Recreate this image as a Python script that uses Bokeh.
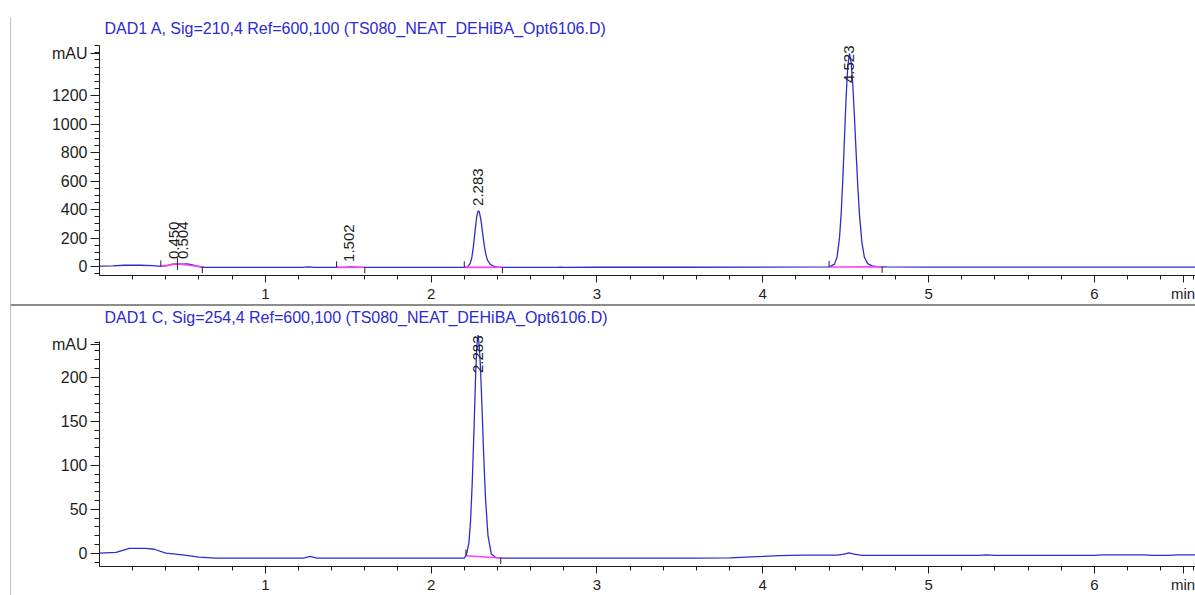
import numpy as np
from bokeh.plotting import figure
from bokeh.models import Range1d, FixedTicker, ColumnDataSource, Spacer, Label
from bokeh.layouts import column, row
from bokeh.embed import file_html
from bokeh.resources import INLINE
from bokeh.core.properties import value

# ---------------- data ----------------
TITLE_A = "DAD1 A, Sig=210,4 Ref=600,100 (TS080_NEAT_DEHiBA_Opt6106.D)"
TITLE_C = "DAD1 C, Sig=254,4 Ref=600,100 (TS080_NEAT_DEHiBA_Opt6106.D)"

# signal A (210 nm): retention time (min) / absorbance (mAU)
t_a = [0.00, 0.08, 0.15, 0.25, 0.32, 0.37, 0.41, 0.44, 0.47, 0.50, 0.53, 0.56, 0.59, 0.63,
       0.80, 1.00, 1.22, 1.26, 1.30, 1.48, 1.51, 1.55, 1.80, 2.00, 2.20, 2.22, 2.235, 2.245,
       2.255, 2.265, 2.275, 2.283, 2.29, 2.30, 2.31, 2.32, 2.33, 2.34, 2.355, 2.37, 2.39,
       2.42, 2.50, 2.76, 2.78, 2.80, 3.00, 3.50, 4.00, 4.40, 4.433, 4.448, 4.463, 4.473,
       4.483, 4.493, 4.503, 4.513, 4.523, 4.533, 4.543, 4.553, 4.563, 4.573, 4.583, 4.598,
       4.613, 4.633, 4.66, 4.70, 4.75, 5.00, 5.50, 6.00, 6.61]
sig_a = [3, 5, 9, 9, 6, 1, 6, 16, 19, 17, 19, 12, 2, -5,
         -6, -6, -6, -3, -6, -6, -2, -5, -6, -6, -6, -2, 20, 60,
         140, 250, 350, 390, 385, 330, 240, 150, 85, 45, 18, 6, -2,
         -5, -6, -6, -4, -6, -5, -5, -4, -3, 17, 65, 201, 371,
         612, 904, 1193, 1409, 1495, 1434, 1277, 1053, 804, 568, 371, 170,
         65, 20, 5, -2, -3, -4, -4, -4, -4]

# signal C (254 nm)
t_c = [0.00, 0.10, 0.18, 0.28, 0.33, 0.40, 0.50, 0.60, 0.70, 1.00, 1.23, 1.27, 1.31, 1.80,
       2.20, 2.213, 2.228, 2.238, 2.248, 2.258, 2.268, 2.276, 2.283, 2.29, 2.298, 2.308,
       2.318, 2.328, 2.343, 2.363, 2.39, 2.43, 3.00, 3.60, 3.80, 3.90, 4.00, 4.10, 4.25,
       4.45, 4.49, 4.52, 4.55, 4.60, 5.00, 5.30, 5.35, 5.40, 6.00, 6.05, 6.20, 6.30, 6.35,
       6.45, 6.50, 6.61]
sig_c = [0, 1, 5.5, 5.5, 4.5, 0, -2, -4.5, -5.5, -5.5, -5.5, -3.5, -5.5, -5.5,
         -5.5, -2, 12, 37, 80, 137, 200, 236, 248, 236, 210, 160,
         107, 62, 20, -1, -5, -5.5, -5.5, -5.5, -5.2, -4.5, -3.7, -2.8, -2.2,
         -2.2, -1, 0.5, -1, -2.5, -2.5, -2.5, -2, -2.5, -2.5, -1.8, -2, -1.8, -2.5,
         -2.5, -1.8, -1.8]

# integrated peaks: retention time, integration start, integration end
rt_a = [0.450, 0.504, 1.502, 2.283, 4.523]
start_a = [0.37, 0.47, 1.43, 2.20, 4.40]
end_a = [0.47, 0.62, 1.60, 2.43, 4.72]

rt_c = [2.283]
start_c = [2.21]
end_c = [2.42]

X_TICKS = [1, 2, 3, 4, 5, 6]
X_UNIT = "min"
Y_TICKS_A = [0, 200, 400, 600, 800, 1000, 1200]
Y_TICKS_C = [0, 50, 100, 150, 200]
Y_UNIT = "mAU"

# ---------------- styling / layout ----------------
PAGE_W, PAGE_H = 1195, 595
STRIP_W = 11                 # left margin strip holding the report frame line
W = PAGE_W - STRIP_W
FRAME_L = 88                 # frame left inside each chart figure (page x = 99)
X0, X1 = 0.0, 6.61
TRACE = "#2d2dcc"
PINK = "#ff3cff"
TXT = "#1e1e1e"
FONT = "Liberation Sans"
RULE = "#8c8c8c"


def panel(title, t, sig, rts, starts, ends, y_bottom, y_axis_top, yticks, yminor_step,
          y_unit_at, x_unit_at, height, page_top, zero_py, axis_bottom_py, ppu,
          title_base_py, label_allow):
    # frame spans the whole figure height above the x axis; the y axis is bounded
    frame_bottom = axis_bottom_py - page_top
    y1 = (zero_py - page_top) / ppu
    y0 = y_bottom
    p = figure(width=W, height=height, x_range=Range1d(X0, X1), y_range=Range1d(y0, y1),
               output_backend="svg", toolbar_location=None,
               min_border_left=FRAME_L, min_border_right=0,
               min_border_top=0, min_border_bottom=height - frame_bottom)
    p.outline_line_color = None
    p.grid.visible = False
    p.background_fill_color = "white"
    p.border_fill_color = "white"

    def dy(py):
        return y1 - (py - page_top) / ppu

    def dx(px):
        return X0 + (px - (STRIP_W + FRAME_L)) * (X1 - X0) / (W - FRAME_L)

    # axes
    xa = p.xaxis[0]
    xa.ticker = FixedTicker(ticks=X_TICKS + [x_unit_at],
                            minor_ticks=[round(0.2 * i, 1) for i in range(1, 34)])
    xa.major_label_overrides = {x_unit_at: X_UNIT}
    ya = p.yaxis[0]
    ya.bounds = (y0, y_axis_top)
    ya.ticker = FixedTicker(ticks=yticks + [y_unit_at],
                            minor_ticks=list(np.arange(np.ceil(y0 / yminor_step) * yminor_step,
                                                       y_axis_top, yminor_step)))
    ya.major_label_overrides = {y_unit_at: Y_UNIT}
    for ax, mt, mi in ((xa, 7, 4), (ya, 9, 5)):
        ax.axis_line_color = TXT
        ax.major_tick_line_color = TXT
        ax.minor_tick_line_color = TXT
        ax.major_tick_in = 0
        ax.minor_tick_in = 0
        ax.major_tick_out = mt
        ax.minor_tick_out = mi
        ax.major_label_text_font = FONT
        ax.major_label_text_color = TXT
    xa.major_label_standoff = 2
    ya.major_label_standoff = 3
    xa.major_label_text_font_size = "15px"
    ya.major_label_text_font_size = "16px"

    # title (inside the frame area, above the bounded y axis)
    p.add_layout(Label(x=dx(104), y=dy(title_base_py), text=title, text_font=FONT,
                       text_font_size="16px", text_color="#2b2bd2",
                       text_baseline="alphabetic", text_align="left"))

    # trace
    p.line(t, sig, line_color=TRACE, line_width=1.3)

    # integration baselines and markers
    yb0 = np.interp(starts, t, sig)
    yb1 = np.interp(ends, t, sig)
    p.segment(x0=starts, y0=yb0, x1=ends, y1=yb1, line_color=PINK, line_width=1.6)
    tick = 6 / ppu
    p.segment(x0=starts, y0=yb0, x1=starts, y1=yb0 + tick, line_color=TXT, line_width=1)
    p.segment(x0=ends, y0=yb1, x1=ends, y1=yb1 - tick, line_color=TXT, line_width=1)

    # peak labels (just above apex, or hanging from the top of the y axis)
    apex = np.interp(rts, t, sig)
    lab_len = 38 / ppu
    top_lim = y_axis_top + label_allow / ppu
    fit = {"x": [], "y": [], "text": []}
    clamp = {"x": [], "y": [], "text": []}
    for r, a in zip(rts, apex):
        yl = a + 5 / ppu
        d = clamp if yl + lab_len > top_lim else fit
        d["x"].append(r)
        d["y"].append(top_lim if d is clamp else yl)
        d["text"].append(f"{r:.3f}")
    for d, al in ((fit, "left"), (clamp, "right")):
        if d["x"]:
            p.text(x="x", y="y", text="text", source=ColumnDataSource(d), angle=np.pi / 2,
                   text_align=al, text_baseline="middle", text_font=value(FONT),
                   text_font_size=value("15px"), text_color=TXT)
    return p


# top signal: page rows 0..304, zero at page y 266, y axis bottom at 275
p_top = panel(TITLE_A, t_a, sig_a, rt_a, start_a, end_a, -63, 1551, Y_TICKS_A, 50, 1495,
              6.535, height=304, page_top=0, zero_py=266, axis_bottom_py=275,
              ppu=0.1425, title_base_py=28, label_allow=0)
# bottom signal: page rows 306..595, zero at page y 552.7, x axis at 566
p_bot = panel(TITLE_C, t_c, sig_c, rt_c, start_c, end_c, -15.1, 240.6, Y_TICKS_C, 10, 237,
              6.535, height=289, page_top=306, zero_py=552.7, axis_bottom_py=566,
              ppu=0.88, title_base_py=317, label_allow=6)

# separator rule between the two signals
sep = Spacer(width=W, height=2, styles={"background-color": RULE})

# left strip carrying the vertical report frame line
strip = figure(width=STRIP_W, height=PAGE_H, x_range=Range1d(0, STRIP_W),
               y_range=Range1d(PAGE_H, 0), output_backend="svg", toolbar_location=None,
               x_axis_location=None, y_axis_location=None, min_border=0)
strip.outline_line_color = None
strip.grid.visible = False
strip.background_fill_color = "white"
strip.border_fill_color = "white"
strip.segment(x0=[10.5], y0=[17], x1=[10.5], y1=[PAGE_H], line_color="#9a9a9a",
              line_width=1.2)
strip.segment(x0=[10], y0=[305], x1=[STRIP_W], y1=[305], line_color=RULE,
              line_width=2)

layout = row(strip, column(p_top, sep, p_bot, spacing=0), spacing=0)
open("out.html", "w").write(file_html(layout, INLINE))
